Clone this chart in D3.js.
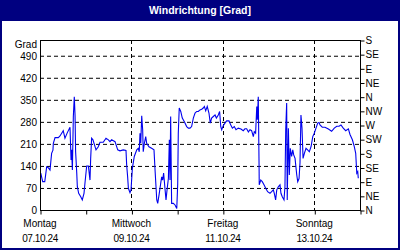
<!DOCTYPE html>
<html>
<head>
<meta charset="utf-8">
<script src="https://cdn.jsdelivr.net/npm/d3@7"></script>
<style>
  body { margin: 0; background: #fff; }
  svg { display: block; font-family: "Liberation Sans", Arial, sans-serif; }
  .grid line { stroke: #000; stroke-dasharray: 4,3; }
</style>
</head>
<body>
<div class="container"></div>
<script>
const w = 400;
const h = 250;
const plot = { left: 40, right: 360, top: 40, bottom: 210 };

// hours after 07.10.24 00:00, and wind direction in degrees
const hours = [0.4, 1.4, 2.5, 3.5, 4.2, 5.25, 6.1, 6.8, 7.0, 7.9, 9.6, 10.5, 12.2, 13.1, 14.3, 15.75,
  16.3, 16.6, 17.0, 17.5, 18.0, 18.4, 18.7, 19.3, 19.6, 20.3, 21.4, 22.2, 23.1, 23.6, 24.5, 25.4,
  26.25, 26.6, 27.1, 27.8, 29.4, 30.6, 31.5, 33.2, 34.65, 35.9, 36.75, 37.6, 39.4, 40.8, 42.0, 43.7,
  45.15, 45.5, 46.0, 46.4, 47.25, 47.8, 48.1, 48.5, 49.5, 50.8, 51.6, 52.1, 52.5, 52.9, 53.4, 53.9,
  54.2, 54.8, 55.5, 56.0, 57.2, 58.6, 59.85, 60.4, 60.9, 61.3, 61.8, 62.5, 63.0, 63.5, 63.9, 64.4,
  64.9, 65.6, 66.15, 66.7, 67.4, 67.9, 68.25, 68.6, 69.1, 70.0, 70.9, 71.8, 72.3, 72.6, 73.1, 73.9,
  74.7, 75.8, 77.0, 77.9, 78.75, 79.6, 80.5, 81.4, 82.3, 83.1, 84.0, 84.9, 85.7, 86.3, 87.0, 87.8,
  88.7, 89.4, 90.1, 91.0, 91.9, 92.6, 93.6, 94.3, 94.9, 95.4, 96.2, 97.1, 98.0, 99.2, 100.3, 101.0,
  102.0, 102.9, 104.1, 105.5, 106.7, 107.6, 108.5, 109.4, 110.25, 111.1, 112.0, 112.5, 113.2, 113.8,
  114.1, 114.6, 115.0, 115.1, 115.9, 116.7, 117.6, 118.5, 119.5, 120.75, 121.6, 122.5, 123.0, 123.7,
  124.3, 125.1, 126.0, 126.5, 127.2, 128.1, 128.6, 129.0, 129.5, 129.8, 130.4, 130.9, 131.4, 132.1,
  132.7, 133.2, 133.9, 134.8, 135.3, 136.0, 136.5, 137.0, 137.55, 138.1, 138.8, 139.65, 140.5, 141.4,
  142.3, 143.2, 144.0, 144.9, 145.8, 146.5, 147.0, 148.2, 149.6, 151.4, 153.1, 154.5, 155.8, 157.0,
  158.0, 159.2, 160.5, 161.9, 162.75, 164.0, 165.0, 165.75, 166.3, 166.8, 167.1];

const degrees = [117, 90, 90, 137, 135, 127, 180, 190, 212, 230, 230, 235, 252, 228, 245, 263,
  159, 191, 127, 297, 360, 300, 185, 117, 74, 53, 42, 32, 53, 85, 140, 140,
  95, 164, 228, 223, 191, 201, 215, 215, 228, 223, 217, 223, 217, 191, 188, 191,
  189, 143, 106, 69, 55, 64, 95, 133, 170, 191, 196, 185, 244, 212, 299, 255,
  185, 212, 233, 212, 201, 196, 191, 127, 74, 32, 21, 48, 69, 90, 105, 95,
  117, 69, 32, 64, 100, 223, 95, 297, 21, 21, 16, 5, 83, 244, 324, 313,
  292, 280, 265, 260, 260, 265, 292, 308, 313, 313, 318, 320, 324, 329, 315, 329,
  308, 276, 292, 297, 302, 292, 302, 313, 265, 255, 268, 276, 283, 283, 268, 260,
  265, 255, 260, 257, 252, 258, 258, 248, 255, 252, 233, 249, 244, 329,
  287, 360, 148, 80, 95, 90, 80, 69, 58, 53, 58, 64, 53, 32,
  64, 74, 80, 53, 42, 32, 74, 255, 340, 32, 260, 111, 196, 170,
  191, 175, 164, 111, 90, 100, 150, 302, 260, 164, 180, 196, 191, 185,
  201, 233, 244, 260, 276, 278, 270, 263, 263, 257, 250, 260, 266, 266,
  270, 260, 252, 258, 240, 223, 201, 180, 117, 122, 101];

const leftTicks = [0, 70, 140, 210, 280, 350, 420, 490];
const compassTicks = [0, 45, 90, 135, 180, 225, 270, 315, 360, 405, 450, 495, 540];
const compassLabels = ["N", "NE", "E", "SE", "S", "SW", "W", "NW", "N", "NE", "E", "SE", "S"];
const dayNames = ["Montag", "Mittwoch", "Freitag", "Sonntag"];
const dayDates = ["07.10.24", "09.10.24", "11.10.24", "13.10.24"];

const start = new Date(2024, 9, 7);
const end = new Date(2024, 9, 14);
const hourMs = 3600 * 1000;

const x = d3.scaleTime().domain([start, end]).range([plot.left, plot.right]);
const y = d3.scaleLinear().domain([0, 540]).range([plot.bottom, plot.top]);

const svg = d3.select('.container').append('svg')
    .attr('width', w)
    .attr('height', h);

// frame and title bar
svg.append('rect').attr('width', w).attr('height', h).attr('fill', '#000080');
svg.append('rect').attr('x', 2).attr('y', 21).attr('width', w - 4).attr('height', h - 23).attr('fill', '#fff');
svg.append('text')
    .attr('x', w / 2).attr('y', 14)
    .attr('text-anchor', 'middle')
    .attr('fill', '#fff')
    .attr('font-weight', 'bold')
    .attr('font-size', 10.5)
    .text('Windrichtung [Grad]');

const days = d3.timeDay.range(start, end);
const labelDays = days.filter((d, i) => i % 2 === 0);

// dashed grid
const grid = svg.append('g').classed('grid', true);
grid.selectAll('line.h')
    .data(leftTicks.filter(d => d > 0))
    .enter().append('line')
    .attr('class', 'h')
    .attr('x1', plot.left).attr('x2', plot.right)
    .attr('y1', d => y(d) + 0.5).attr('y2', d => y(d) + 0.5);
grid.selectAll('line.v')
    .data(labelDays.slice(1))
    .enter().append('line')
    .attr('class', 'v')
    .attr('x1', d => Math.round(x(d)) + 0.5).attr('x2', d => Math.round(x(d)) + 0.5)
    .attr('y1', plot.top).attr('y2', plot.bottom);

// data line
const line = d3.line()
    .x((d, i) => x(new Date(start.getTime() + hours[i] * hourMs)))
    .y(d => y(d));

svg.append('path')
    .datum(degrees)
    .attr('fill', 'none')
    .attr('stroke', '#0000ee')
    .attr('stroke-width', 1.1)
    .attr('d', line);

// plot box
svg.append('rect')
    .attr('x', plot.left + 0.5).attr('y', plot.top + 0.5)
    .attr('width', plot.right - plot.left).attr('height', plot.bottom - plot.top)
    .attr('fill', 'none').attr('stroke', '#000');

// left axis
const leftAxis = d3.axisLeft(y).tickValues(leftTicks).tickSize(0).tickPadding(3);
const gl = svg.append('g')
    .attr('transform', `translate(${plot.left}, 0.5)`)
    .call(leftAxis);
gl.select('.domain').remove();
gl.selectAll('text').attr('font-size', 10).attr('font-family', null).attr('fill', '#000');

svg.append('text')
    .attr('x', 37).attr('y', 48)
    .attr('text-anchor', 'end')
    .attr('font-size', 10)
    .text('Grad');

// right compass axis
const rightAxis = d3.axisRight(y).tickValues(compassTicks)
    .tickFormat((d, i) => compassLabels[i]).tickSize(4).tickPadding(1);
const gr = svg.append('g')
    .attr('transform', `translate(${plot.right + 0.5}, 0.5)`)
    .call(rightAxis);
gr.select('.domain').remove();
gr.selectAll('text').attr('font-size', 10).attr('font-family', null).attr('fill', '#000');

// bottom axis
const bottomAxis = d3.axisBottom(x).tickValues(days.concat([end])).tickSize(4).tickFormat('');
const gb = svg.append('g')
    .attr('transform', `translate(0.5, ${plot.bottom + 0.5})`)
    .call(bottomAxis);
gb.select('.domain').remove();

const dayLabel = svg.append('g')
    .selectAll('g')
    .data(labelDays)
    .enter().append('g')
    .attr('transform', d => `translate(${x(d)}, 0)`);

dayLabel.append('text')
    .attr('y', 227)
    .attr('text-anchor', 'middle')
    .attr('font-size', 10)
    .text((d, i) => dayNames[i]);

dayLabel.append('text')
    .attr('y', 242)
    .attr('text-anchor', 'middle')
    .attr('font-size', 10)
    .attr('letter-spacing', -0.4)
    .text((d, i) => dayDates[i]);
</script>
</body>
</html>
